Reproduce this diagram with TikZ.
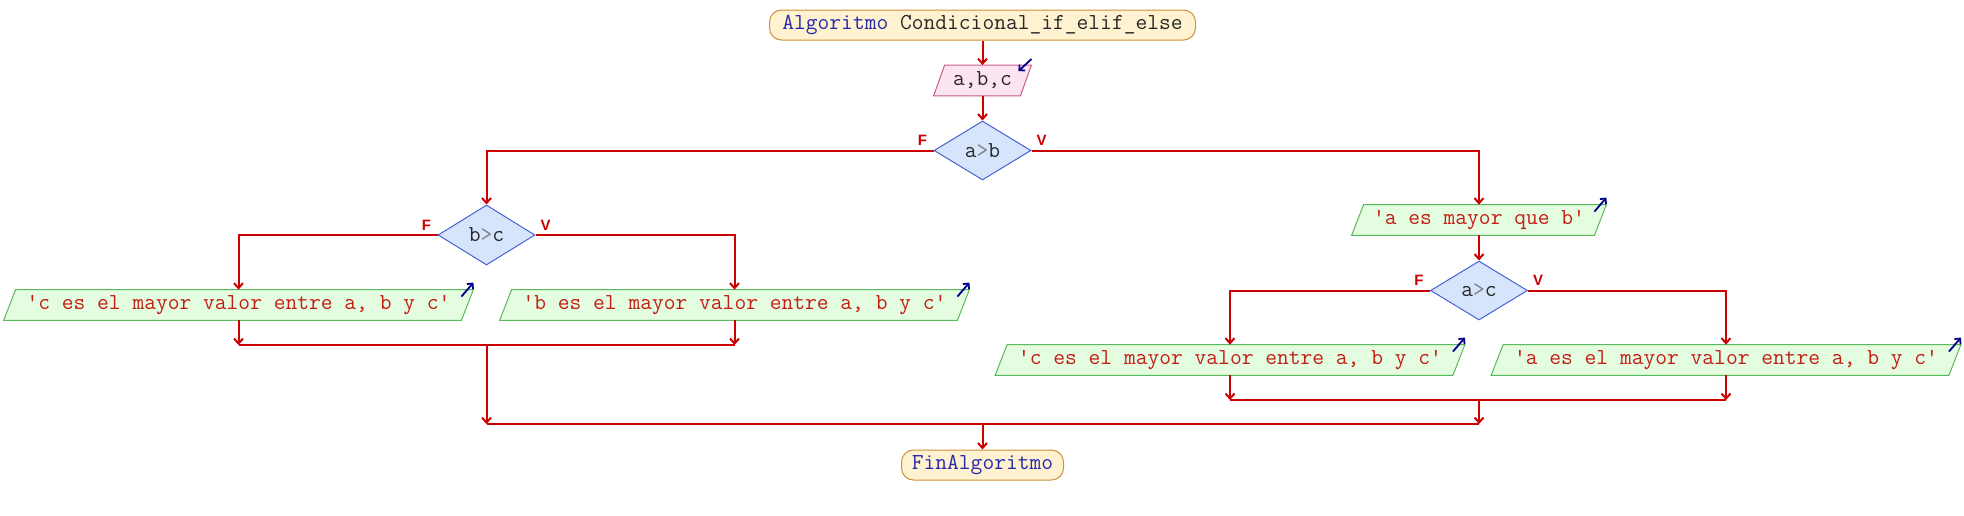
\documentclass[tikz,border=0pt]{standalone}
\usepackage{fontspec}
\setsansfont{Liberation Sans}
\usetikzlibrary{arrows.meta,shapes.geometric,backgrounds}
\definecolor{lred}{RGB}{204,0,0}
\definecolor{otext}{RGB}{195,30,20}
\definecolor{kwblue}{RGB}{40,40,170}
\definecolor{dtext}{RGB}{40,40,40}
\definecolor{tfill}{RGB}{255,242,208}
\definecolor{tdraw}{RGB}{205,145,60}
\definecolor{ifill}{RGB}{252,228,240}
\definecolor{idraw}{RGB}{200,90,140}
\definecolor{dfill}{RGB}{214,228,252}
\definecolor{ddraw}{RGB}{70,100,210}
\definecolor{ofill}{RGB}{228,252,224}
\definecolor{odraw}{RGB}{90,185,90}
\definecolor{iconblue}{RGB}{0,0,140}
\begin{document}
\begin{tikzpicture}[x=0.5pt,y=-0.5pt,
  txt/.style={font=\ttfamily\fontsize{11.43}{13}\selectfont},
  conn/.style={draw=lred,line width=1pt},
  arr/.style={conn,-{Straight Barb[length=2.5pt,width=4.5pt]}},
  term/.style={txt,draw=tdraw,fill=tfill,line width=0.5pt,rounded corners=6pt,minimum height=15pt,inner sep=0pt,text=dtext},
  inbox/.style={txt,minimum height=15pt,inner sep=0pt,text=dtext},
  outb/.style={txt,minimum height=15pt,inner sep=0pt,text=otext},
  dec/.style={txt,diamond,draw=ddraw,fill=dfill,line width=0.5pt,minimum width=48.5pt,minimum height=29.5pt,inner sep=0pt,text=dtext},
  oshape/.style={draw=odraw,fill=ofill,line width=0.5pt},
  ishape/.style={draw=idraw,fill=ifill,line width=0.5pt},
  lab/.style={font=\sffamily\bfseries\fontsize{7.5}{8}\selectfont,text=lred,inner sep=0pt},
  icon/.style={draw=iconblue,line width=0.9pt,-{Straight Barb[length=2pt,width=4pt]}}
]
\useasboundingbox (0,0) rectangle (1964,515);

% nodes
\node[term,minimum width=213pt] (start) at (982.5,25) {{\color{kwblue}Algoritmo} Condicional\_if\_elif\_else};
\node[inbox,minimum width=43pt] (in) at (982.5,80.5) {a,b,c};
\node[dec] (d1) at (982.5,150.5) {a{\color{gray}>}b};
\node[dec,minimum height=30pt] (d2) at (486.5,235) {b{\color{gray}>}c};
\node[outb,minimum width=121pt] (o1) at (1479,220) {\textquotesingle a es mayor que b\textquotesingle};
\node[dec] (d3) at (1479,290.5) {a{\color{gray}>}c};
\node[outb,minimum width=228.5pt] (o2) at (238.5,305) {\textquotesingle c es el mayor valor entre a, b y c\textquotesingle};
\node[outb,minimum width=228.5pt] (o3) at (734.5,305) {\textquotesingle b es el mayor valor entre a, b y c\textquotesingle};
\node[outb,minimum width=228.5pt] (o4) at (1230,360) {\textquotesingle c es el mayor valor entre a, b y c\textquotesingle};
\node[outb,minimum width=228.5pt] (o5) at (1726,360) {\textquotesingle a es el mayor valor entre a, b y c\textquotesingle};
\node[term,minimum width=81pt,text=kwblue] (end) at (982.5,465) {FinAlgoritmo};

% parallelogram bodies
\begin{scope}[on background layer]
  \foreach \n in {o1,o2,o3,o4,o5}{
    \filldraw[oshape] ([xshift=-3pt]\n.south west) -- ([xshift=-3pt]\n.south east) -- ([xshift=3pt]\n.north east) -- ([xshift=3pt]\n.north west) -- cycle;
  }
  \filldraw[ishape] ([xshift=-2.75pt]in.south west) -- ([xshift=-2.75pt]in.south east) -- ([xshift=2.75pt]in.north east) -- ([xshift=2.75pt]in.north west) -- cycle;
\end{scope}

% icons
\foreach \n in {o1,o2,o3,o4,o5}{
  \draw[icon] ([shift={(-3pt,-3.5pt)}]\n.north east) -- ([shift={(3pt,3.5pt)}]\n.north east);
}
\draw[icon] ([shift={(2.75pt,3pt)}]in.north east) -- ([shift={(-3.75pt,-3pt)}]in.north east);

% junction coordinates
\coordinate (j1a) at (238.5,345);
\coordinate (j1b) at (734.5,345);
\coordinate (j1) at (486.5,345);
\coordinate (j2a) at (1230,400);
\coordinate (j2b) at (1726,400);
\coordinate (j2) at (1479,400);
\coordinate (k1) at (486.5,424);
\coordinate (k2) at (1479,424);
\coordinate (k) at (982.5,424);

% connectors
\draw[arr] (start.south) -- (in.north);
\draw[arr] (in.south) -- (d1.north);
\draw[arr] (d1.west) -| (d2.north);
\draw[arr] (d1.east) -| (o1.north);
\draw[arr] (o1.south) -- (d3.north);
\draw[arr] (d2.west) -| (o2.north);
\draw[arr] (d2.east) -| (o3.north);
\draw[arr] (d3.west) -| (o4.north);
\draw[arr] (d3.east) -| (o5.north);
\draw[arr] (o2.south) -- (j1a);
\draw[arr] (o3.south) -- (j1b);
\draw[conn] (j1a) -- (j1b);
\draw[arr] (o4.south) -- (j2a);
\draw[arr] (o5.south) -- (j2b);
\draw[conn] (j2a) -- (j2b);
\draw[arr] (j1) -- (k1);
\draw[arr] (j2) -- (k2);
\draw[conn] (k1) -- (k2);
\draw[arr] (k) -- (end.north);

% F / V labels
\foreach \d in {d1,d2,d3}{
  \node[lab] (\d F) at ([shift={(-5.5pt,5pt)}]\d.west) {F};
  \node[lab] (\d V) at ([shift={(5pt,5pt)}]\d.east) {V};
}
\end{tikzpicture}
\end{document}
